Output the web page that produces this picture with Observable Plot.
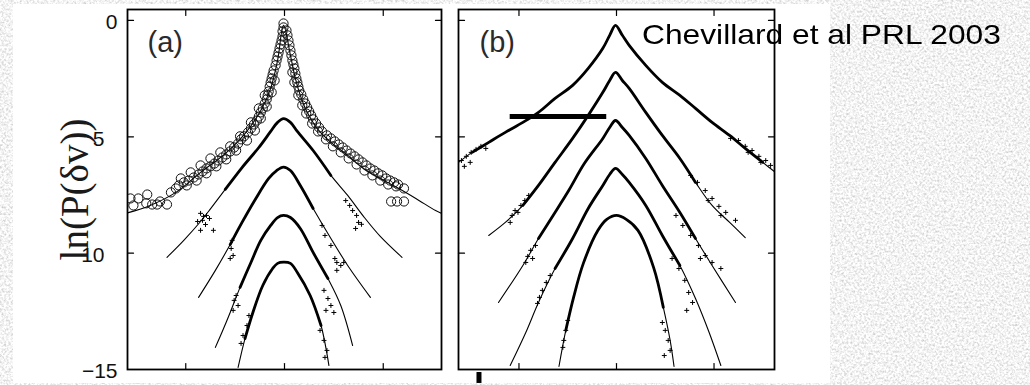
<!DOCTYPE html>
<html>
<head>
<meta charset="utf-8">
<script src="https://cdn.jsdelivr.net/npm/d3@7"></script>
<script src="https://cdn.jsdelivr.net/npm/@observablehq/plot@0.6"></script>
<style>
  html, body { margin: 0; padding: 0; }
  body { width: 1030px; height: 385px; overflow: hidden; background: #e6e6e6; }
  #stage { position: relative; width: 1030px; height: 385px; }
  #grain { position: absolute; left: 0; top: 0; }
  #sheet { position: absolute; left: 13px; top: 4px; width: 817px; height: 379px; background: #fff; }
  .panel { position: absolute; left: 0; top: 0; }
  #credit { position: absolute; left: 642px; top: 21px; font-family: "Liberation Sans", Arial, sans-serif;
            font-size: 28px; line-height: 28px; white-space: nowrap; color: #000;
            transform: scaleX(1.134); transform-origin: 0 0; }
</style>
</head>
<body>
<div id="stage">
  <svg id="grain" width="1030" height="385">
    <filter id="paper">
      <feTurbulence type="fractalNoise" baseFrequency="0.45" numOctaves="3" seed="7"/>
      <feColorMatrix type="matrix" values="0.8 0 0 0 0.5  0.8 0 0 0 0.5  0.8 0 0 0 0.5  0 0 0 0 1"/>
    </filter>
    <rect width="1030" height="385" filter="url(#paper)"/>
  </svg>
  <div id="sheet"></div>
  <div id="panelA" class="panel"></div>
  <div id="panelB" class="panel"></div>
  <div id="credit">Chevillard et al PRL 2003</div>
</div>
<script>
// ---- axes ----
const xTicks = [-100, 0, 100];
const yTicks = [0, -5, -10];
const yLabelValues = [0, -5, -10, -15];
const yLabelText = ["0", "5", "10", "\u221215"];

// ---- panel (a): fitted curves, top = smallest scale ----
const fitA1 = [[-159,-8.27],[-136,-7.95],[-110,-7.39],[-85,-6.53],[-60,-5.72],[-40,-4.86],[-24,-3.87],[-14,-2.92],[-7,-1.72],[-1,-0.21],[6,-1.5],[11,-2.49],[16,-3.22],[23,-3.95],[33,-4.64],[47,-5.24],[64,-5.8],[80,-6.36],[97,-6.79],[114,-7.18],[133,-7.65],[153,-8.17],[159,-8.29]];
const fitA2 = [[-119,-10.18],[-102,-9.45],[-85,-8.64],[-77,-8.21],[-60,-7.26],[-43,-6.32],[-26,-5.46],[-14,-4.77],[-7,-4.38],[-1,-4.22],[6,-4.38],[13,-4.77],[29,-5.59],[47,-6.66],[64,-7.52],[80,-8.42],[97,-9.28],[119,-10.18]];
const fitA3 = [[-87,-11.9],[-70,-10.74],[-55,-9.63],[-43,-8.68],[-29,-7.65],[-16,-6.79],[-8,-6.45],[-1,-6.3],[6,-6.45],[16,-7.09],[29,-8.08],[47,-9.37],[64,-10.53],[87,-11.9]];
const fitA4 = [[-70,-14.05],[-63,-13.37],[-55,-12.55],[-45,-11.47],[-34,-10.4],[-24,-9.45],[-14,-8.81],[-7,-8.47],[-1,-8.38],[6,-8.47],[16,-8.94],[29,-9.97],[44,-11.09],[57,-12.25],[69,-13.97]];
const fitA5 = [[-47,-14.91],[-40,-13.67],[-32,-12.55],[-22,-11.39],[-12,-10.66],[-7,-10.44],[-1,-10.39],[6,-10.44],[13,-10.83],[26,-11.82],[37,-13.11],[45,-14.83]];

// measured PDF at the smallest scale (open circles)
const circlesA1 = [
  [-156,-7.65],[-153,-7.95],[-148,-7.65],[-140,-7.86],[-139,-7.48],[-134,-7.91],[-129,-7.91],[-126,-7.78],[-119,-7.91],
  [-115,-7.39],[-110,-7.22],[-107,-7.09],[-102,-6.96],[-97,-6.88],[-92,-6.75],[-87,-6.62],[-83,-6.49],[-79,-6.36],
  [-75,-6.27],[-71,-6.15],[-67,-6.02],[-63,-5.89],[-59,-5.76],[-55,-5.63],[-51,-5.46],[-47,-5.29],[-44,-5.11],
  [-41,-4.98],[-37,-4.81],[-34,-4.64],[-31,-4.47],[-28,-4.3],[-26,-4.13],[-24,-3.95],[-22,-3.78],[-20,-3.57],
  [-18,-3.39],[-17,-3.22],[-16,-3.05],[-15,-2.84],[-14,-2.66],[-13,-2.49],[-12,-2.32],[-11,-2.15],[-9,-1.93],
  [-8,-1.72],[-7,-1.55],[-6,-1.38],[-5,-1.2],[-4,-1.03],[-3,-0.86],[-2,-0.69],[-2,-0.47],[-1,-0.3],[-1,-0.13],
  [-105,-6.79],[-95,-6.53],[-85,-6.23],[-75,-5.93],[-65,-5.67],[-55,-5.41],[-45,-4.98],[-34,-4.38],[-26,-3.78],[-20,-3.22],
  [-99,-7.09],[-89,-6.88],[-79,-6.57],[-69,-6.27],[-59,-5.97],[-49,-5.59],[-38,-5.16],[-30,-4.73],[-24,-4.21],[-18,-3.7],[-13,-3.09],[-10,-2.58],
  [2,-0.43],[3,-0.64],[4,-0.86],[5,-1.07],[6,-1.29],[7,-1.5],[8,-1.72],[9,-1.89],[10,-2.06],[11,-2.28],[12,-2.49],
  [13,-2.66],[14,-2.84],[15,-3.01],[17,-3.18],[19,-3.39],[21,-3.57],[23,-3.74],[25,-3.91],[27,-4.08],[29,-4.25],
  [32,-4.43],[35,-4.6],[38,-4.77],[43,-4.94],[47,-5.07],[51,-5.2],[55,-5.33],[59,-5.46],[63,-5.59],[67,-5.72],
  [71,-5.84],[75,-5.97],[79,-6.1],[83,-6.23],[87,-6.36],[91,-6.45],[95,-6.57],[99,-6.66],[103,-6.79],[107,-6.88],
  [111,-6.96],[115,-7.05],[121,-7.22],
  [14,-3.22],[18,-3.65],[22,-4.0],[28,-4.43],[34,-4.77],[42,-5.11],[49,-5.41],[57,-5.67],[65,-5.93],[73,-6.19],
  [81,-6.45],[89,-6.66],[97,-6.88],[105,-7.05],[113,-7.13],[108,-7.78],[114,-7.78],[121,-7.78],[10,-2.66],[8,-2.23]
];

// sparse measured points in the tails
const scatterA2 = [[-85,-8.29],[-82,-8.42],[-79,-8.38],[-83,-8.59],[-80,-8.77],[-85,-9.02],[-72,-9.02],[-76,-8.51],[-88,-8.64],[62,-7.74],[66,-7.95],[73,-8.38],[75,-8.68],[72,-8.94],[78,-8.76],[69,-8.17]];
const scatterA3 = [[-53,-9.45],[-54,-9.8],[-52,-10.1],[-55,-10.23],[38,-8.81],[41,-9.24],[47,-9.67],[51,-10.23],[53,-10.4],[57,-10.53],[60,-10.4],[53,-10.74]];
const scatterA4 = [[-49,-11.82],[-51,-12.03],[-47,-12.25],[-52,-12.46],[40,-11.6],[44,-11.95],[47,-12.25],[42,-12.46],[50,-12.55]];
const scatterA5 = [[-36,-12.68],[-38,-13.11],[-42,-13.54],[-44,-13.88],[36,-13.32],[40,-13.75],[43,-14.18],[41,-14.48]];

// x-ranges where the measured points merge into a solid trace: [curve, from, to]
const denseA = [[2,-62,57],[3,-55,45],[4,-50,44],[5,-44,40]];

// ---- panel (b) ----
const fitB1 = [[-162,-6.1],[-148,-5.67],[-131,-5.24],[-114,-4.81],[-96,-4.38],[-80,-3.95],[-63,-3.35],[-45,-2.79],[-29,-2.06],[-14,-1.2],[-7,-0.64],[-1,-0.21],[6,-0.64],[13,-1.07],[30,-1.93],[47,-2.66],[65,-3.22],[81,-3.78],[98,-4.38],[116,-4.94],[132,-5.5],[150,-6.1],[163,-6.53]];
const fitB2 = [[-131,-9.24],[-114,-8.68],[-96,-7.95],[-80,-7.09],[-63,-6.1],[-45,-5.07],[-29,-4.08],[-14,-3.09],[-7,-2.58],[-1,-2.23],[6,-2.58],[13,-2.92],[30,-3.95],[47,-4.94],[65,-5.93],[81,-6.96],[98,-7.95],[116,-8.68],[132,-9.33]];
const fitB3 = [[-121,-12.12],[-96,-10.53],[-80,-9.37],[-65,-8.38],[-49,-7.31],[-33,-6.15],[-14,-5.07],[-7,-4.6],[-1,-4.3],[6,-4.6],[13,-4.94],[30,-5.93],[47,-7.09],[65,-8.25],[81,-9.37],[98,-10.53],[122,-12.12]];
const fitB4 = [[-109,-14.83],[-93,-13.41],[-80,-12.12],[-63,-10.66],[-45,-9.37],[-29,-8.08],[-14,-7.09],[-7,-6.62],[-1,-6.36],[6,-6.62],[13,-6.96],[30,-7.95],[47,-9.24],[65,-10.53],[81,-11.95],[95,-13.41],[107,-14.83]];
const fitB5 = [[-59,-14.87],[-52,-13.32],[-44,-11.9],[-34,-10.44],[-19,-9.02],[-10,-8.55],[0,-8.38],[10,-8.55],[22,-9.02],[38,-10.61],[48,-12.33],[55,-13.75],[59,-14.87]];

const scatterB1 = [[-159,-6.02],[-154,-5.84],[-149,-5.67],[-144,-5.54],[-139,-5.41],[-156,-6.27],[-150,-6.1],[-134,-5.5],[117,-5.07],[125,-5.16],[132,-5.41],[139,-5.59],[146,-5.84],[153,-6.02],[158,-6.23],[135,-5.67],[148,-6.1]];
const scatterB2 = [[-90,-7.52],[-94,-7.74],[-98,-7.95],[-104,-8.17],[-107,-8.38],[-109,-8.68],[-101,-8.25],[76,-6.66],[83,-6.96],[91,-7.31],[98,-7.65],[105,-7.99],[112,-8.25],[122,-8.59],[94,-7.74],[107,-8.38]];
const scatterB3 = [[-83,-9.67],[-88,-9.88],[-91,-10.14],[-93,-10.4],[-86,-10.23],[61,-8.38],[68,-8.81],[76,-9.24],[84,-9.67],[91,-10.1],[98,-10.4],[107,-10.66],[86,-10.23]];
const scatterB4 = [[-68,-10.96],[-72,-11.26],[-76,-11.6],[-79,-11.9],[-81,-12.16],[57,-10.23],[64,-10.66],[70,-11.17],[74,-11.69],[78,-12.12],[72,-12.46]];
const scatterB5 = [[-50,-12.89],[-52,-13.32],[-54,-13.75],[-55,-14.05],[47,-12.98],[50,-13.32],[53,-13.75],[55,-14.18],[49,-14.4]];

const denseB = [[1,-150,150],[2,-100,95],[3,-85,85],[4,-75,75],[5,-52,50]];

// hand-drawn markers over panel (b)
const markerBar = [{x1: -109, x2: -10, y: -4.13}];
const markerTick = [{x: -141, y1: -15.13, y2: -15.6}];

// ---- helpers ----
const rows = (pairs, curve) => pairs.map(([x, y]) => ({x, y, curve}));
const table = (list) => list.flatMap((pairs, i) => rows(pairs, i + 1));
const dense = (fits, ranges) => ranges.flatMap(([c, lo, hi]) =>
  rows(fits[c - 1], c).filter(d => d.x >= lo && d.x <= hi));

const tickShape = {draw(context, l) { context.moveTo(0, 0); context.lineTo(0, -l); }};
const frameTicks = () => [
  Plot.vector(xTicks, {x: d => d, frameAnchor: "top", rotate: 180, length: 6, anchor: "start", shape: tickShape, stroke: "#000", strokeWidth: 1.2}),
  Plot.vector(xTicks, {x: d => d, frameAnchor: "bottom", rotate: 0, length: 6, anchor: "start", shape: tickShape, stroke: "#000", strokeWidth: 1.2}),
  Plot.vector(yTicks, {y: d => d, frameAnchor: "left", rotate: 90, length: 6, anchor: "start", shape: tickShape, stroke: "#000", strokeWidth: 1.2}),
  Plot.vector(yTicks, {y: d => d, frameAnchor: "right", rotate: -90, length: 6, anchor: "start", shape: tickShape, stroke: "#000", strokeWidth: 1.2})
];
const curveMarks = (fits, ranges, scatters) => [
  Plot.line(table(fits), {x: "x", y: "y", z: "curve", curve: "catmull-rom", stroke: "#000", strokeWidth: 1.1, clip: true}),
  Plot.line(dense(fits, ranges), {x: "x", y: "y", z: "curve", curve: "catmull-rom", stroke: "#000", strokeWidth: 2.8, clip: true}),
  Plot.dot(scatters.flat().map(([x, y]) => ({x, y})), {x: "x", y: "y", symbol: "plus", r: 1.7, stroke: "#000", strokeWidth: 1, clip: true})
];
const labelOf = d => yLabelText[yLabelValues.indexOf(d)];
const sans = "Liberation Sans, Arial, sans-serif";

// ---- panel (a) ----
const fitsA = [fitA1, fitA2, fitA3, fitA4, fitA5];
const plotA = Plot.plot({
  width: 445, height: 385,
  marginLeft: 127, marginRight: 4, marginTop: 9, marginBottom: 16,
  style: {background: "transparent", overflow: "visible", fontFamily: sans},
  x: {domain: [-159, 159], axis: null},
  y: {domain: [-15, 0.47], axis: null},
  marks: [
    ...curveMarks(fitsA, denseA, [scatterA2, scatterA3, scatterA4, scatterA5]),
    Plot.dot(rows(circlesA1, 1), {x: "x", y: "y", r: 4.6, stroke: "#111", strokeWidth: 1, fill: "none", clip: true}),
    Plot.frame({stroke: "#000", strokeWidth: 1.8}),
    ...frameTicks(),
    Plot.axisY([0, -15], {anchor: "left", tickSize: 0, tickPadding: 10, tickFormat: labelOf, fontSize: 21, dy: 2, label: null, fill: "#111"}),
    Plot.axisY([-5, -10], {anchor: "left", tickSize: 0, tickPadding: 23, tickFormat: labelOf, fontSize: 21, dy: 2, label: null, fill: "#111"}),
    Plot.text(["ln(P(\u03b4v))"], {frameAnchor: "left", dx: -40, rotate: -90, lineAnchor: "bottom", textAnchor: "middle",
      fontSize: 39, fontFamily: "Liberation Serif, Times New Roman, serif", fill: "#1a1a1a"}),
    Plot.text(["(a)"], {frameAnchor: "top-left", dx: 20, dy: 22, lineAnchor: "top", textAnchor: "start", fontSize: 29, fill: "#2a2a2a"})
  ]
});
document.getElementById("panelA").append(plotA);

// ---- panel (b) ----
const fitsB = [fitB1, fitB2, fitB3, fitB4, fitB5];
const plotB = Plot.plot({
  width: 778, height: 385,
  marginLeft: 458, marginRight: 4, marginTop: 9, marginBottom: 16,
  style: {background: "transparent", overflow: "visible", fontFamily: sans},
  x: {domain: [-162, 162], axis: null},
  y: {domain: [-15, 0.47], axis: null},
  marks: [
    ...curveMarks(fitsB, denseB, [scatterB1, scatterB2, scatterB3, scatterB4, scatterB5]),
    Plot.frame({stroke: "#000", strokeWidth: 1.8}),
    ...frameTicks(),
    Plot.text(["(b)"], {frameAnchor: "top-left", dx: 21, dy: 22, lineAnchor: "top", textAnchor: "start", fontSize: 29, fill: "#2a2a2a"}),
    Plot.ruleY(markerBar, {y: "y", x1: "x1", x2: "x2", stroke: "#000", strokeWidth: 5}),
    Plot.ruleX(markerTick, {x: "x", y1: "y1", y2: "y2", stroke: "#000", strokeWidth: 5})
  ]
});
document.getElementById("panelB").append(plotB);
</script>
</body>
</html>
